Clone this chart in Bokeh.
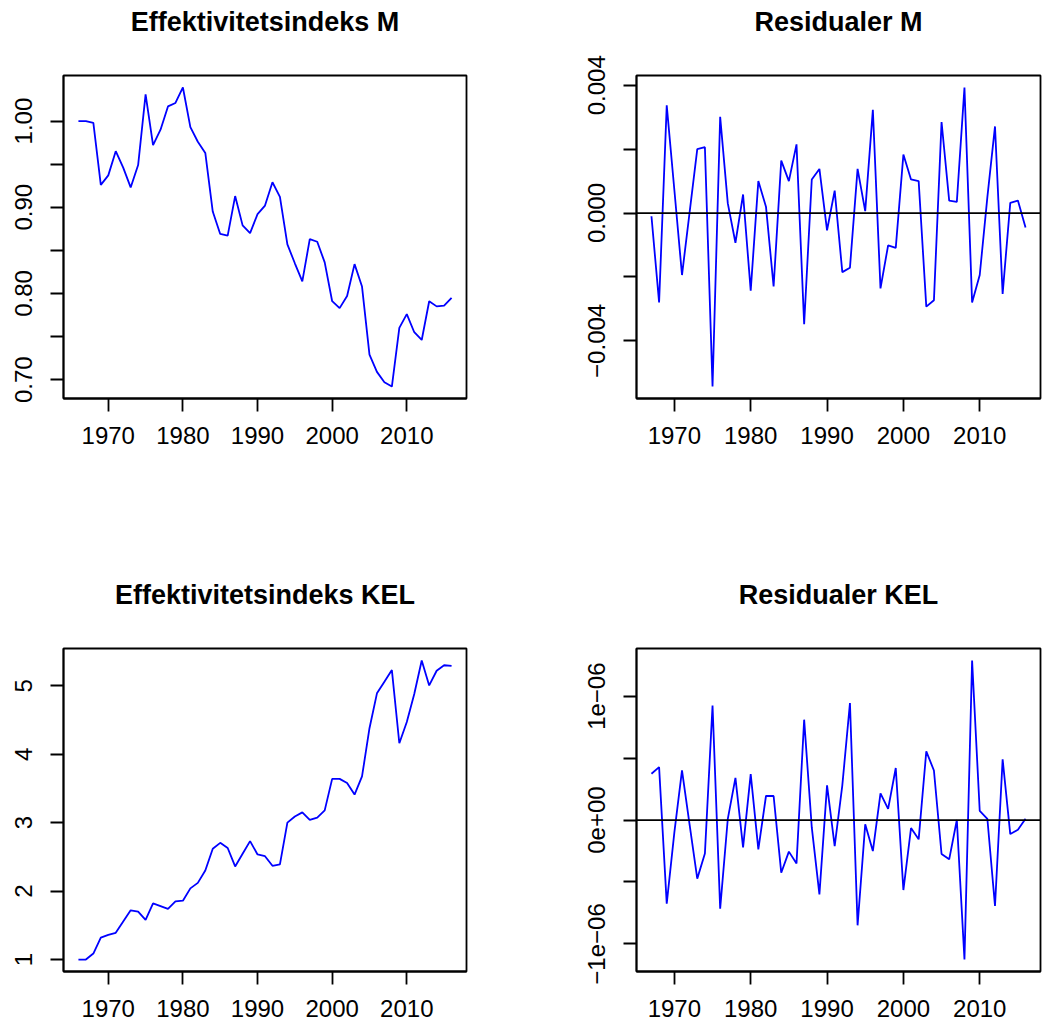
from bokeh.plotting import figure
from bokeh.layouts import gridplot
from bokeh.models import Range1d, FixedTicker, Span, Title
from bokeh.embed import file_html
from bokeh.resources import INLINE

# ---------------- data ----------------
years_idx = list(range(1966, 2017))
years_res = list(range(1967, 2017))

idx_m = [1.000, 1.000, 0.998, 0.926, 0.937, 0.965, 0.946, 0.923, 0.949, 1.031,
         0.972, 0.990, 1.017, 1.021, 1.039, 0.993, 0.976, 0.963, 0.895, 0.869,
         0.867, 0.913, 0.879, 0.870, 0.892, 0.902, 0.929, 0.912, 0.857, 0.835,
         0.814, 0.863, 0.860, 0.836, 0.791, 0.783, 0.797, 0.834, 0.808, 0.729,
         0.709, 0.697, 0.692, 0.760, 0.776, 0.755, 0.746, 0.791, 0.785, 0.786,
         0.795]

res_m = [-0.00010, -0.00280, 0.00337, 0.00072, -0.00194, 0.00003, 0.00200, 0.00206, -0.00543, 0.00301,
         0.00030, -0.00093, 0.00058, -0.00243, 0.00100, 0.00020, -0.00230, 0.00164, 0.00100, 0.00215,
         -0.00348, 0.00105, 0.00138, -0.00054, 0.00070, -0.00185, -0.00171, 0.00138, 0.00006, 0.00323,
         -0.00236, -0.00101, -0.00109, 0.00183, 0.00105, 0.00100, -0.00293, -0.00273, 0.00285, 0.00039,
         0.00035, 0.00393, -0.00280, -0.00194, 0.00050, 0.00271, -0.00253, 0.00032, 0.00039, -0.00045]

idx_kel = [1.00, 1.00, 1.088, 1.32, 1.36, 1.39, 1.555, 1.72, 1.70, 1.58,
           1.82, 1.78, 1.74, 1.85, 1.86, 2.04, 2.12, 2.30, 2.62, 2.705,
           2.63, 2.36, 2.545, 2.73, 2.535, 2.51, 2.37, 2.39, 3.00, 3.09,
           3.15, 3.04, 3.075, 3.18, 3.64, 3.64, 3.58, 3.41, 3.675, 4.38,
           4.89, 5.06, 5.23, 4.16, 4.47, 4.88, 5.37, 5.005, 5.22, 5.30,
           5.29]

res_kel = [0.374e-6, 0.427e-6, -0.675e-6, -0.10e-6, 0.400e-6, -0.04e-6, -0.473e-6, -0.270e-6, 0.925e-6, -0.715e-6,
           0.010e-6, 0.340e-6, -0.220e-6, 0.370e-6, -0.237e-6, 0.194e-6, 0.194e-6, -0.425e-6, -0.255e-6, -0.350e-6,
           0.810e-6, -0.060e-6, -0.600e-6, 0.280e-6, -0.210e-6, 0.280e-6, 0.944e-6, -0.850e-6, -0.035e-6, -0.250e-6,
           0.215e-6, 0.090e-6, 0.420e-6, -0.565e-6, -0.065e-6, -0.156e-6, 0.554e-6, 0.400e-6, -0.274e-6, -0.317e-6,
           0.000e-6, -1.126e-6, 1.288e-6, 0.073e-6, 0.010e-6, -0.694e-6, 0.490e-6, -0.113e-6, -0.078e-6, 0.010e-6]

x_ticks = [1970, 1980, 1990, 2000, 2010]

y_ticks_m = [0.70, 0.75, 0.80, 0.85, 0.90, 0.95, 1.00]
y_labels_m = ["0.70", "", "0.80", "", "0.90", "", "1.00"]

y_ticks_res_m = [-0.004, -0.002, 0.0, 0.002, 0.004]
y_labels_res_m = ["\u22120.004", "", "0.000", "", "0.004"]

y_ticks_kel = [1, 2, 3, 4, 5]
y_labels_kel = ["1", "2", "3", "4", "5"]

y_ticks_res_kel = [-1e-6, -5e-7, 0.0, 5e-7, 1e-6]
y_labels_res_kel = ["\u22121e\u221206", "", "0e+00", "", "1e\u221206"]

titles = ["Effektivitetsindeks M", "Residualer M",
          "Effektivitetsindeks KEL", "Residualer KEL"]

FONT = "Liberation Sans"


def pad_range(vals):
    lo, hi = min(vals), max(vals)
    d = (hi - lo) * 0.04
    return Range1d(lo - d, hi + d)


def make_panel(title, xs, ys, yticks, ylabels, width, height,
               bl, br, bt, bb, zero_line=False):
    p = figure(width=width, height=height, output_backend="svg",
               toolbar_location=None,
               x_range=pad_range(xs), y_range=pad_range(ys),
               min_border_left=bl, min_border_right=br,
               min_border_top=bt, min_border_bottom=bb)
    p.background_fill_color = "white"
    p.border_fill_color = "white"
    p.outline_line_color = "black"
    p.outline_line_width = 1.8
    p.xgrid.visible = False
    p.ygrid.visible = False

    # spacer between frame and title, then the title itself
    spacer = Title(text=" ", text_font_size="10px", standoff=26)
    main = Title(text=title, standoff=0, align="center", vertical_align="bottom",
                 text_font=FONT, text_font_size="27px", text_font_style="bold",
                 text_color="black")
    p.add_layout(spacer, "above")
    p.add_layout(main, "above")

    p.xaxis.ticker = FixedTicker(ticks=x_ticks)
    p.yaxis.ticker = FixedTicker(ticks=yticks)
    p.yaxis.major_label_overrides = {t: l for t, l in zip(yticks, ylabels)}
    p.yaxis.major_label_orientation = "vertical"

    for ax in (p.xaxis[0], p.yaxis[0]):
        ax.axis_line_color = "black"
        ax.axis_line_width = 1.8
        ax.major_tick_line_color = "black"
        ax.major_tick_line_width = 1.8
        ax.major_tick_out = 13
        ax.major_tick_in = 0
        ax.minor_tick_line_color = None
        ax.major_label_text_font = FONT
        ax.major_label_text_font_size = "24px"
        ax.major_label_text_color = "black"
    p.xaxis[0].major_label_standoff = 15
    p.yaxis[0].major_label_standoff = 18

    if zero_line:
        p.add_layout(Span(location=0, dimension="width",
                          line_color="black", line_width=1.8))
    p.line(xs, ys, line_color="blue", line_width=1.8)
    return p


p1 = make_panel(titles[0], years_idx, idx_m, y_ticks_m, y_labels_m,
                522, 514, 63, 56, 75, 116)
p2 = make_panel(titles[1], years_res, res_m, y_ticks_res_m, y_labels_res_m,
                522, 514, 114, 4, 75, 116, zero_line=True)
p3 = make_panel(titles[2], years_idx, idx_kel, y_ticks_kel, y_labels_kel,
                522, 513, 63, 56, 134, 56)
p4 = make_panel(titles[3], years_res, res_kel, y_ticks_res_kel, y_labels_res_kel,
                522, 513, 114, 4, 134, 56, zero_line=True)

grid = gridplot([[p1, p2], [p3, p4]], toolbar_location=None)

open("out.html", "w").write(file_html(grid, INLINE))
